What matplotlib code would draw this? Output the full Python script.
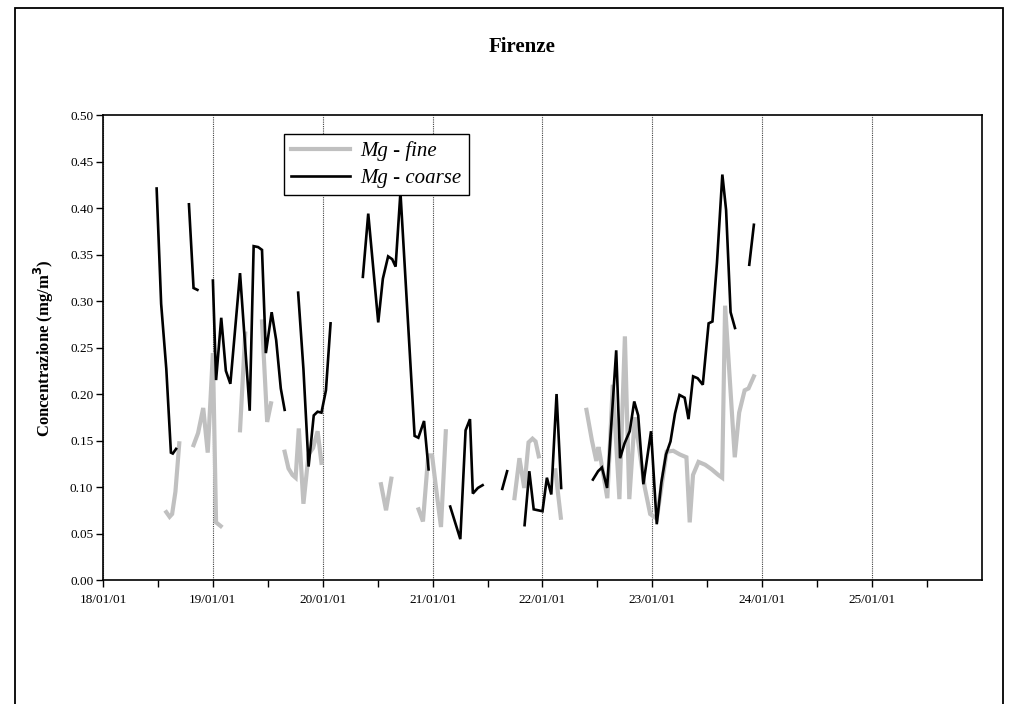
import numpy as np
import matplotlib
matplotlib.use('Agg')
import matplotlib.pyplot as plt
from matplotlib.patches import Rectangle

# Day of January 2001 (fractional) and concentrations; nan marks a gap in the record
coarse_day = [18.488, 18.529, 18.576, 18.618, 18.635, 18.665, np.nan,
              18.782, 18.824, 18.859, np.nan,
              19.000, 19.029, 19.076, 19.118, 19.159, 19.247, 19.335, 19.371, 19.412, 19.447,
              19.482, 19.535, 19.576, 19.618, 19.653, np.nan,
              19.776, 19.824, 19.871, 19.918, 19.953, 19.988, 20.029, 20.071, np.nan,
              20.365, 20.414, 20.505, 20.547, 20.595, 20.632, 20.663, 20.707,
              20.836, 20.870, 20.922, 20.963, np.nan,
              21.160, 21.252, 21.300, 21.340, 21.366, 21.412, 21.455, np.nan,
              21.634, 21.678, np.nan,
              21.837, 21.880, 21.920, 21.960, 22.000, 22.040, 22.080, 22.128, 22.170, np.nan,
              22.459, 22.506, 22.541, 22.588, 22.671, 22.706, 22.747, 22.794, 22.835, 22.871,
              22.918, 22.988, 23.040, 23.082, 23.124, 23.165, 23.206, 23.247, 23.294, 23.329,
              23.371, 23.412, 23.459, 23.512, 23.547, 23.588, 23.637, 23.671, 23.712, 23.752, np.nan,
              23.882, 23.924]
coarse_val = [0.421, 0.297, 0.227, 0.137, 0.136, 0.141, np.nan,
              0.404, 0.314, 0.312, np.nan,
              0.322, 0.215, 0.282, 0.225, 0.211, 0.330, 0.182, 0.359, 0.358, 0.355,
              0.244, 0.288, 0.258, 0.206, 0.183, np.nan,
              0.309, 0.227, 0.122, 0.177, 0.181, 0.180, 0.204, 0.276, np.nan,
              0.326, 0.394, 0.277, 0.324, 0.348, 0.345, 0.337, 0.417,
              0.155, 0.153, 0.171, 0.119, np.nan,
              0.079, 0.044, 0.161, 0.173, 0.093, 0.099, 0.102, np.nan,
              0.098, 0.117, np.nan,
              0.059, 0.117, 0.076, 0.075, 0.074, 0.110, 0.092, 0.200, 0.099, np.nan,
              0.108, 0.117, 0.121, 0.099, 0.247, 0.131, 0.147, 0.160, 0.192, 0.177,
              0.103, 0.160, 0.060, 0.105, 0.135, 0.149, 0.179, 0.199, 0.196, 0.173,
              0.219, 0.217, 0.210, 0.276, 0.278, 0.341, 0.436, 0.398, 0.288, 0.271, np.nan,
              0.339, 0.382]

fine_day = [18.576, 18.606, 18.629, 18.659, 18.694, np.nan,
            18.824, 18.865, 18.912, 18.953, 19.000, 19.029, 19.071, np.nan,
            19.247, 19.294, np.nan,
            19.447, 19.494, 19.529, np.nan,
            19.653, 19.688, 19.724, 19.753, 19.782, 19.824, 19.871, 19.912, 19.953, 19.988, np.nan,
            20.530, 20.576, 20.624, np.nan,
            20.872, 20.912, 20.960, 20.995, 21.030, 21.076, 21.120, np.nan,
            21.745, 21.790, 21.834, 21.873, 21.909, 21.937, 21.966, np.nan,
            22.117, 22.167, np.nan,
            22.400, 22.450, 22.490, 22.510, 22.530, 22.590, 22.640, 22.700, 22.750, 22.790,
            22.840, 22.930, 22.980, 23.040, 23.130, 23.190, 23.250, 23.310, 23.340, 23.370,
            23.420, 23.480, 23.540, 23.600, 23.635, 23.662, 23.750, 23.790, 23.840, 23.875, 23.924]
fine_val = [0.073, 0.068, 0.071, 0.095, 0.147, np.nan,
            0.145, 0.158, 0.185, 0.137, 0.244, 0.062, 0.058, np.nan,
            0.161, 0.265, np.nan,
            0.278, 0.170, 0.190, np.nan,
            0.138, 0.120, 0.113, 0.110, 0.163, 0.082, 0.135, 0.142, 0.160, 0.126, np.nan,
            0.103, 0.075, 0.109, np.nan,
            0.076, 0.063, 0.134, 0.134, 0.100, 0.057, 0.160, np.nan,
            0.088, 0.131, 0.099, 0.148, 0.152, 0.149, 0.133, np.nan,
            0.118, 0.067, np.nan,
            0.183, 0.150, 0.128, 0.143, 0.130, 0.088, 0.210, 0.087, 0.262, 0.087,
            0.175, 0.100, 0.071, 0.066, 0.138, 0.139, 0.135, 0.132, 0.062, 0.113,
            0.127, 0.124, 0.119, 0.113, 0.110, 0.295, 0.132, 0.180, 0.204, 0.206, 0.219]

day_ticks = [18, 19, 20, 21, 22, 23, 24, 25]
day_labels = ['18/01/01', '19/01/01', '20/01/01', '21/01/01',
              '22/01/01', '23/01/01', '24/01/01', '25/01/01']
y_ticks = np.arange(0, 0.501, 0.05)

plt.rcParams['font.family'] = ['Liberation Serif', 'DejaVu Serif']

fig = plt.figure(figsize=(10.16, 7.04), dpi=100)
ax = fig.add_axes([0.1014, 0.1761, 0.8651, 0.6605])

# outer frame of the chart area (bottom edge falls outside the image)
fig.patches.append(Rectangle((0.0148, -0.02), 0.9724, 1.0086, transform=fig.transFigure,
                             fill=False, edgecolor='black', linewidth=1.3))

ax.plot(fine_day, fine_val, color='#c0c0c0', linewidth=3.0, label='Mg - fine',
        solid_joinstyle='miter')
ax.plot(coarse_day, coarse_val, color='black', linewidth=1.9, label='Mg - coarse',
        solid_joinstyle='miter')

ax.set_xlim(18, 26)
ax.set_ylim(0, 0.5)
ax.set_xticks(day_ticks)
ax.set_xticklabels(day_labels)
ax.set_xticks(np.arange(18.5, 26, 1.0), minor=True)
ax.set_yticks(y_ticks)
ax.set_yticklabels([f'{v:.2f}' for v in y_ticks])
ax.tick_params(axis='both', which='both', direction='out', length=5, width=1,
               labelsize=9.5)
ax.tick_params(axis='x', which='major', pad=5)
ax.tick_params(axis='y', pad=2)
ax.grid(axis='x', which='major', linestyle=(0, (1, 1)), color='#444444', linewidth=0.8)

for spine in ax.spines.values():
    spine.set_linewidth(1.2)

fig.text(0.514, 0.933, 'Firenze', ha='center', va='center', fontsize=15, fontweight='bold')
fig.text(0.043, 0.505, 'Concentrazione (mg/m$^{\\mathbf{3}}$)', rotation=90, ha='center',
         va='center', fontsize=12, fontweight='bold')

leg = ax.legend(loc='upper left', bbox_to_anchor=(0.206, 0.959), borderaxespad=0,
                fancybox=False, edgecolor='black', framealpha=1, handlelength=2.8,
                handletextpad=0.5, borderpad=0.35, labelspacing=0.35,
                prop={'style': 'italic', 'size': 15})
leg.get_frame().set_linewidth(1.0)

fig.savefig('out.png', dpi=100)
